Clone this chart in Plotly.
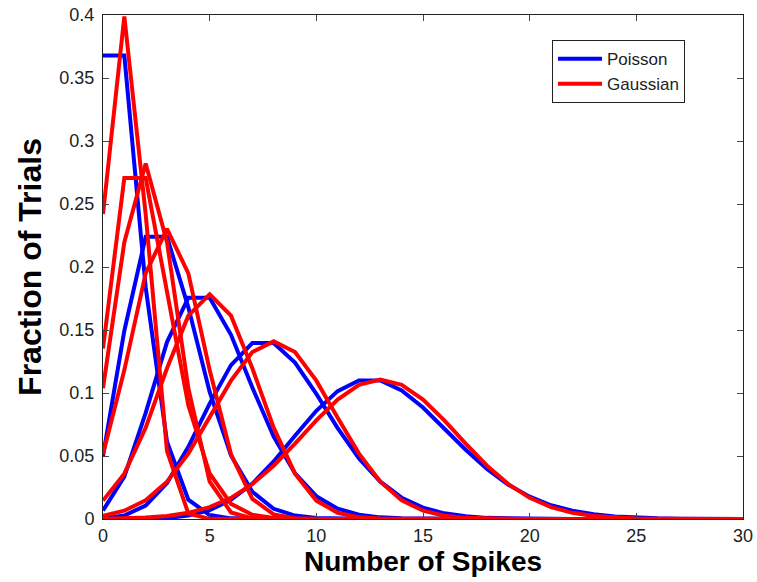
import plotly.graph_objects as go

spikes = list(range(31))
means = [1, 2, 3, 5, 8, 13]

def pad(vals):
    return vals + [0.0] * (31 - len(vals))

poisson_1 = pad([0.3679, 0.3679, 0.1839, 0.0613, 0.0153, 0.0031, 0.0005, 0.0001])
poisson_2 = pad([0.1353, 0.2707, 0.2707, 0.1804, 0.0902, 0.0361, 0.0120, 0.0034, 0.0009, 0.0002])
poisson_3 = pad([0.0498, 0.1494, 0.2240, 0.2240, 0.1680, 0.1008, 0.0504, 0.0216, 0.0081, 0.0027,
                 0.0008, 0.0002, 0.0001])
poisson_5 = pad([0.0067, 0.0337, 0.0842, 0.1404, 0.1755, 0.1755, 0.1462, 0.1044, 0.0653, 0.0363,
                 0.0181, 0.0082, 0.0034, 0.0013, 0.0005, 0.0002])
poisson_8 = pad([0.0003, 0.0027, 0.0107, 0.0286, 0.0573, 0.0916, 0.1221, 0.1396, 0.1396, 0.1241,
                 0.0993, 0.0722, 0.0481, 0.0296, 0.0169, 0.0090, 0.0045, 0.0021, 0.0009, 0.0004,
                 0.0002, 0.0001])
poisson_13 = pad([0.0000, 0.0000, 0.0002, 0.0008, 0.0027, 0.0070, 0.0152, 0.0281, 0.0457, 0.0661,
                  0.0859, 0.1015, 0.1099, 0.1099, 0.1021, 0.0885, 0.0719, 0.0550, 0.0397, 0.0272,
                  0.0177, 0.0109, 0.0065, 0.0037, 0.0020, 0.0010, 0.0005, 0.0002, 0.0001])

gauss_1 = pad([0.2420, 0.3989, 0.2420, 0.0540, 0.0044, 0.0001])
gauss_2 = pad([0.1038, 0.2197, 0.2821, 0.2197, 0.1038, 0.0297, 0.0052, 0.0005])
gauss_3 = pad([0.0514, 0.1182, 0.1950, 0.2303, 0.1950, 0.1182, 0.0514, 0.0160, 0.0036, 0.0006,
               0.0001])
gauss_5 = pad([0.0146, 0.0360, 0.0725, 0.1196, 0.1614, 0.1784, 0.1614, 0.1196, 0.0725, 0.0360,
               0.0146, 0.0049, 0.0013, 0.0003, 0.0001])
gauss_8 = pad([0.0026, 0.0066, 0.0149, 0.0296, 0.0519, 0.0803, 0.1098, 0.1325, 0.1410, 0.1325,
               0.1098, 0.0803, 0.0519, 0.0296, 0.0149, 0.0066, 0.0026, 0.0009, 0.0003, 0.0001])
gauss_13 = pad([0.0002, 0.0004, 0.0011, 0.0024, 0.0049, 0.0094, 0.0168, 0.0277, 0.0423, 0.0598,
                0.0783, 0.0948, 0.1065, 0.1106, 0.1065, 0.0948, 0.0783, 0.0598, 0.0423, 0.0277,
                0.0168, 0.0094, 0.0049, 0.0024, 0.0011, 0.0004, 0.0002, 0.0001])

x_ticks = [0, 5, 10, 15, 20, 25, 30]
y_ticks = [0, 0.05, 0.1, 0.15, 0.2, 0.25, 0.3, 0.35, 0.4]
y_tick_text = ["0", "0.05", "0.1", "0.15", "0.2", "0.25", "0.3", "0.35", "0.4"]

BLUE = "#0000ff"
RED = "#ff0000"
LW = 4

fig = go.Figure()

# Poisson curves (the mean-2 one appears in red in the original)
blue_series = [poisson_1, poisson_3, poisson_5, poisson_8, poisson_13]
for i, ys in enumerate(blue_series):
    fig.add_trace(go.Scatter(x=spikes, y=ys, mode="lines",
                             line=dict(color=BLUE, width=LW),
                             name="Poisson", legendgroup="p",
                             showlegend=(i == 0)))
fig.add_trace(go.Scatter(x=spikes, y=poisson_2, mode="lines",
                         line=dict(color=RED, width=LW), showlegend=False))

red_series = [gauss_1, gauss_2, gauss_3, gauss_5, gauss_8, gauss_13]
for i, ys in enumerate(red_series):
    fig.add_trace(go.Scatter(x=spikes, y=ys, mode="lines",
                             line=dict(color=RED, width=LW),
                             name="Gaussian", legendgroup="g",
                             showlegend=(i == 0)))

FONT = "Arial, Liberation Sans, sans-serif"

fig.update_layout(
    width=757, height=582,
    margin=dict(l=103, r=14, t=15, b=63),
    paper_bgcolor="white", plot_bgcolor="white",
    font=dict(family=FONT, size=18, color="#222222"),
    xaxis=dict(range=[0, 30], tickvals=x_ticks, ticks="inside", ticklen=6,
               showline=True, linecolor="#222222", linewidth=1, mirror="ticks",
               showgrid=False, zeroline=False, tickfont=dict(size=18),
               automargin=False,
               title=dict(text="<b>Number of Spikes</b>", font=dict(size=28, color="black"),
                          standoff=6)),
    yaxis=dict(range=[0, 0.4], tickvals=y_ticks, ticktext=y_tick_text, ticks="inside",
               ticklen=6, showline=True, linecolor="#222222", linewidth=1, mirror="ticks",
               showgrid=False, zeroline=False, tickfont=dict(size=18),
               ticklabelstandoff=4, automargin=False,
               title=dict(text="<b>Fraction of Trials</b>", font=dict(size=32, color="black"),
                          standoff=8)),
    legend=dict(x=0.7016, y=0.95, xanchor="left", yanchor="top",
                bgcolor="white", bordercolor="#222222", borderwidth=1,
                itemwidth=44, entrywidth=115, entrywidthmode="pixels",
                font=dict(size=17, color="#222222"), tracegroupgap=0),
    showlegend=True,
)

fig.write_html("out.html")
